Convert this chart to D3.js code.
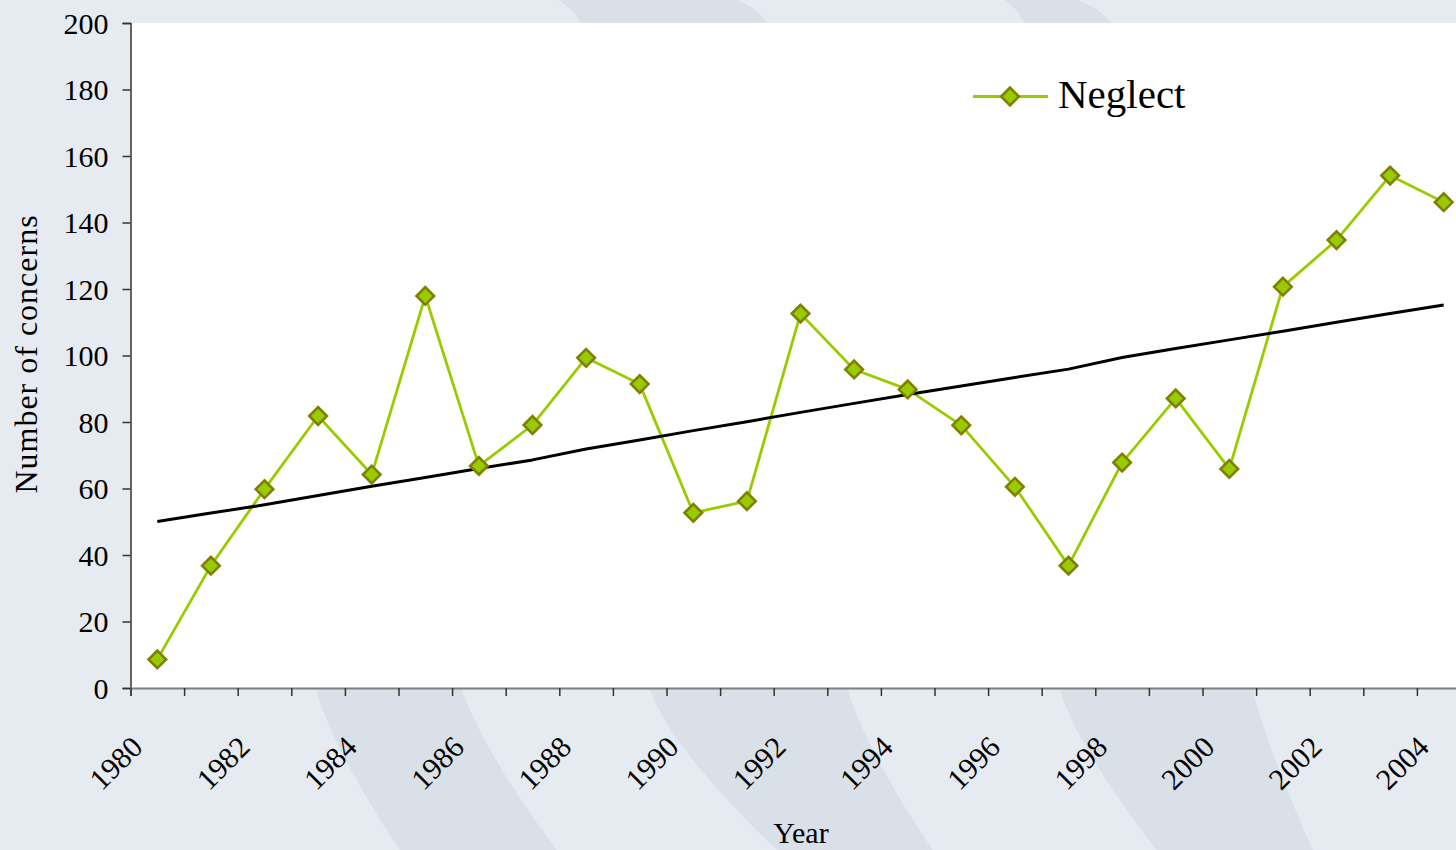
<!DOCTYPE html>
<html>
<head>
<meta charset="utf-8">
<script src="https://cdn.jsdelivr.net/npm/d3@7/dist/d3.min.js"></script>
<style>
  html, body { margin: 0; padding: 0; background: #e6ebf2; overflow: hidden; }
  svg { display: block; }
  text { font-family: "Liberation Serif", "Times New Roman", serif; fill: #000; }
</style>
</head>
<body>
<svg id="chart" width="1456" height="850"></svg>
<script>
const years = [1980,1981,1982,1983,1984,1985,1986,1987,1988,1989,1990,1991,1992,
               1993,1994,1995,1996,1997,1998,1999,2000,2001,2002,2003,2004];
const neglect = [8.6, 36.8, 59.8, 81.8, 64.2, 117.9, 66.8, 79.1, 99.3, 91.4, 52.7, 56.2, 112.6,
                 95.8, 89.8, 79.0, 60.5, 36.8, 67.8, 87.1, 65.9, 120.7, 134.7, 154.1, 146.1];
const trend = [50.1, 52.6, 55.1, 57.9, 60.7, 63.3, 66.0, 68.6, 71.9, 74.6, 77.4, 80.1, 82.9,
               85.6, 88.3, 90.8, 93.4, 95.9, 99.4, 102.1, 104.7, 107.3, 110.0, 112.6, 115.2];
const yTicks = [0, 20, 40, 60, 80, 100, 120, 140, 160, 180, 200];
const xLabelYears = [1980,1982,1984,1986,1988,1990,1992,1994,1996,1998,2000,2002,2004];
const seriesName = "Neglect";
const xTitle = "Year";
const yTitle = "Number of concerns";

(function () {
const W = 1456, H = 850;
const pLeft = 130.5, pTop = 23, pBottom = 688;
const step = 53.6;
const pRight = pLeft + step * years.length;

const svg = d3.select("#chart");

// background
svg.append("rect").attr("width", W).attr("height", H).attr("fill", "#e6ebf2");
const bandColor = "#d9e0e8";
const bands = [
  { l: [[250, 23], [280, 300], [316, 690], [400, 850]], r: [[380, 23], [410, 300], [462, 690], [557, 850]] },
  { l: [[558, 0], [581, 23], [640, 400], [650, 690], [777, 850]], r: [[737, 0], [767, 23], [830, 400], [848, 690], [933, 850]] },
  { l: [[1005, 0], [1024, 23], [1050, 400], [1060, 690], [1157, 850]], r: [[1078, 0], [1111, 23], [1220, 400], [1253, 690], [1313, 850]] }
];
const edge = d3.line().curve(d3.curveCatmullRom);
bands.forEach(b => {
  const d = edge(b.l) + "L" + edge(b.r.slice().reverse()).slice(1) + "Z";
  svg.append("path").attr("d", d).attr("fill", bandColor);
});

// plot area
svg.append("rect").attr("x", pLeft).attr("y", pTop)
  .attr("width", W - pLeft).attr("height", pBottom - pTop).attr("fill", "#ffffff");

const x = d3.scaleBand().domain(years).range([pLeft, pRight]).padding(0);
const xb = d3.scaleLinear().domain([0, years.length]).range([pLeft, pRight]);
const y = d3.scaleLinear().domain([0, 200]).range([pBottom, pTop]);
const cx = d => x(d) + x.bandwidth() / 2;

// y axis
const yAxis = svg.append("g").attr("transform", `translate(${pLeft},0)`)
  .call(d3.axisLeft(y).tickValues(yTicks).tickSize(8).tickPadding(14).tickFormat(d3.format("d")));
yAxis.select(".domain").attr("stroke", "#333").attr("stroke-width", 1.5);
yAxis.selectAll(".tick line").attr("stroke", "#333").attr("stroke-width", 1.5);
yAxis.selectAll(".tick text").attr("font-size", 30).attr("fill", "#000")
  .attr("font-family", "Liberation Serif, Times New Roman, serif").attr("dy", "0.34em");

// x axis
const xAxis = svg.append("g").attr("transform", `translate(0,${pBottom})`)
  .call(d3.axisBottom(xb).tickValues(d3.range(0, years.length + 1)).tickSize(8).tickFormat(""));
xAxis.select(".domain").attr("stroke", "#7f7f7f").attr("stroke-width", 2);
xAxis.selectAll(".tick line").attr("stroke", "#333").attr("stroke-width", 1.5);

svg.append("g").selectAll("text").data(xLabelYears).join("text")
  .attr("transform", d => `translate(${cx(d) - 13},749) rotate(-45)`)
  .attr("text-anchor", "end")
  .attr("font-size", 30)
  .text(d => d);

// titles
svg.append("text").attr("x", 801).attr("y", 843).attr("text-anchor", "middle")
  .attr("font-size", 30).text(xTitle);
svg.append("text").attr("transform", "translate(37,354) rotate(-90)")
  .attr("text-anchor", "middle").attr("font-size", 32).attr("letter-spacing", 1)
  .text(yTitle);

// clip for plot
svg.append("clipPath").attr("id", "plotclip").append("rect")
  .attr("x", pLeft).attr("y", 0).attr("width", W - pLeft).attr("height", pBottom + 20);
const plot = svg.append("g").attr("clip-path", "url(#plotclip)");

const line = d3.line().x((d, i) => cx(years[i])).y(d => y(d));

plot.append("path").datum(neglect).attr("d", line)
  .attr("fill", "none").attr("stroke", "#99cc00").attr("stroke-width", 2.8)
  .attr("stroke-linejoin", "round");

plot.append("path").datum(trend).attr("d", line)
  .attr("fill", "none").attr("stroke", "#000").attr("stroke-width", 3)
  .attr("stroke-linejoin", "round");

const diamond = d3.symbol().type(d3.symbolSquare).size(155);
plot.selectAll(".mk").data(neglect).join("path")
  .attr("class", "mk")
  .attr("d", diamond)
  .attr("transform", (d, i) => `translate(${cx(years[i])},${y(d)}) rotate(45)`)
  .attr("fill", "#99cc00").attr("stroke", "#808000").attr("stroke-width", 2.6);

// legend
const lg = svg.append("g");
lg.append("line").attr("x1", 973).attr("x2", 1048).attr("y1", 96.5).attr("y2", 96.5)
  .attr("stroke", "#99cc00").attr("stroke-width", 2.8);
lg.append("path").attr("d", diamond).attr("transform", "translate(1010,96.5) rotate(45)")
  .attr("fill", "#99cc00").attr("stroke", "#808000").attr("stroke-width", 2.6);
lg.append("text").attr("x", 1058).attr("y", 108).attr("font-size", 41).text(seriesName);
})();
</script>
</body>
</html>
